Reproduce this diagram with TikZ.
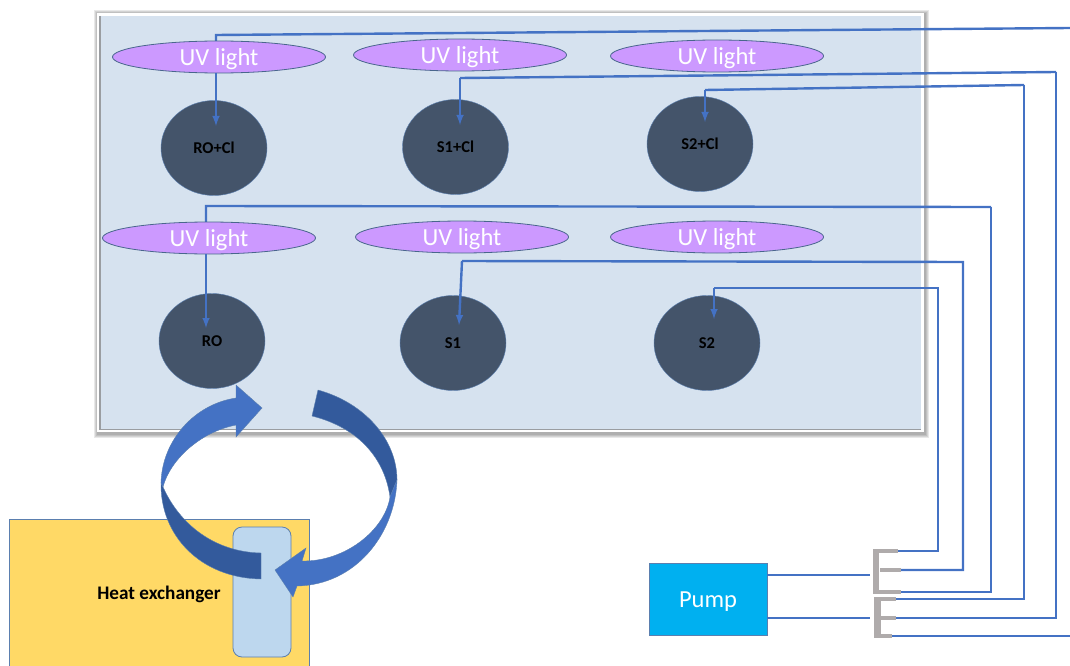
\documentclass[tikz,border=0pt]{standalone}
\usepackage{fontspec}
\setmainfont{Carlito}
\usetikzlibrary{shapes.geometric}
\usetikzlibrary{%
  calc,%
  arrows%
}
\definecolor{panelblue}{HTML}{D6E2EF}
\definecolor{tankdark}{HTML}{44546A}
\definecolor{lampviolet}{HTML}{CC99FF}
\definecolor{pipeblue}{HTML}{4472C4}
\definecolor{darkturn}{HTML}{335A9C}
\definecolor{edgeblue}{HTML}{5B7FAF}
\definecolor{heatyellow}{HTML}{FFD966}
\definecolor{coilblue}{HTML}{BDD7EE}
\definecolor{pumpblue}{HTML}{00B0F0}
\definecolor{splitgray}{HTML}{AFABAB}
\tikzset{
  lamp/.style={ellipse,draw=edgeblue!80!black,line width=0.8pt,fill=lampviolet,text=white,inner sep=0pt,
    minimum width=213pt,minimum height=32pt,text height=17pt,text depth=0pt,
    font=\fontsize{24.5}{24.5}\selectfont},
  tank/.style={ellipse,draw=edgeblue,fill=tankdark,text=black,inner sep=0pt,
    minimum width=106pt,minimum height=95pt,font=\bfseries\fontsize{16.5}{16.5}\selectfont},
  pipe/.style={draw=pipeblue,line width=2.4pt},
  splitter/.style={draw=splitgray,line width=4pt},
  splitback/.style={draw=splitgray,line width=6.5pt},
  turn/.style={draw=edgeblue,line width=0.4pt},
  glow/.style={black,opacity=0.09}
}
\begin{document}
\begin{tikzpicture}[x=1pt,y=-1pt]
\useasboundingbox (0,0) rectangle (1070,666);

% chamber
\fill[glow] (94,10) rectangle (929,438);
\fill[glow] (95,11) rectangle (928,437);
\fill[glow] (96,12) rectangle (927,436);
\fill[glow] (97,13) rectangle (926,435);
\node (chamber) [rectangle,draw=white,line width=3pt,fill=panelblue,inner sep=0pt,
  minimum width=824pt,minimum height=416pt] at (510.5,222.5) {};
\draw[gray!70!panelblue,line width=1.2pt] (100,16) -- (100,429.5) -- (921,429.5);

% heat exchanger
\node (exchanger) [rectangle,draw=edgeblue,line width=0.8pt,fill=heatyellow,inner sep=0pt,
  minimum width=300pt,minimum height=150pt] at (159,594) {};
\node (heatlabel) [font=\bfseries\fontsize{19.2}{19.2}\selectfont] at (159,594) {Heat exchanger};
\node (coil) [rectangle,rounded corners=9pt,draw=edgeblue,line width=0.8pt,fill=coilblue,inner sep=0pt,
  minimum width=58pt,minimum height=130pt] at (262,592) {};

% free ends of the pipes
\coordinate (inrocl) at (216,126);
\coordinate (ins1cl) at (460,125);
\coordinate (ins2cl) at (705,122);
\coordinate (inro) at (206,328);
\coordinate (ins1) at (459,325);
\coordinate (ins2) at (714,319);
\coordinate (edgetop) at (1070,28);
\coordinate (edgebottom) at (1070,636);
\coordinate (bendrocl) at (216,35);
\coordinate (bends1cl) at (460,78);
\coordinate (bends2cl) at (705,90);
\coordinate (bendro) at (206,206);
\coordinate (bends1) at (462,261);
\coordinate (bends2) at (714,288);

% pipes go behind the lamps
\draw[pipe] (edgetop) -- (bendrocl) -- (216,60);
\draw[pipe] (1056,72) -- (bends1cl);
\draw[pipe] (1024,85) -- (bends2cl);
\draw[pipe] (991,207) -- (bendro) -- (206,230);

% lamps
\node (lamprocl) [lamp] at (219,57) {UV light};
\node (lamps1cl) [lamp] at (460,55) {UV light};
\node (lamps2cl) [lamp] at (717,56) {UV light};
\node (lampro) [lamp] at (209,238) {UV light};
\node (lamps1) [lamp] at (462,237) {UV light};
\node (lamps2) [lamp] at (717,237) {UV light};

% tanks
\node (tankrocl) [tank] at (214,148) {RO+Cl};
\node (tanks1cl) [tank] at (455.5,147) {S1+Cl};
\node (tanks2cl) [tank] at (700,144) {S2+Cl};
\node (tankro) [tank] at (212,341) {RO};
\node (tanks1) [tank] at (453,343) {S1};
\node (tanks2) [tank] at (707,343) {S2};

% arrow tips inside the tanks
\draw[pipe,-latex] (216,73) -- (inrocl);
\draw[pipe,-latex] (bends1cl) -- (ins1cl);
\draw[pipe,-latex] (bends2cl) -- (ins2cl);
\draw[pipe,-latex] (206,254) -- (inro);
\draw[pipe,-latex] (bends1) -- (ins1);
\draw[pipe,-latex] (bends2) -- (ins2);

% pump and splitters
\node (pump) [rectangle,draw=edgeblue,line width=0.8pt,fill=pumpblue,text=white,inner sep=0pt,
  minimum width=118pt,minimum height=72pt,text height=16pt,text depth=0pt,
  font=\fontsize{24.5}{24.5}\selectfont] at (708,599) {Pump};
\coordinate (pumpa) at (767,575);
\coordinate (pumpb) at (767,618);
\coordinate (splita) at (870,575);
\coordinate (splitb) at (870,618);
\coordinate (taba) at (898,551);
\coordinate (tabb) at (901,570);
\coordinate (tabc) at (901,592);
\coordinate (tabd) at (896,599);
\coordinate (tabe) at (896,618);
\coordinate (tabf) at (892,636);
\draw[pipe] (pumpa) -- (splita);
\draw[pipe] (pumpb) -- (splitb);
\draw[splitter] (taba) -- (874,551);
\draw[splitter] (tabb) -- (880,570);
\draw[splitter] (tabc) -- (874,592);
\draw[splitback] (876,549) -- (876,594);
\draw[splitter] (tabd) -- (875,599);
\draw[splitter] (tabe) -- (880,618);
\draw[splitter] (tabf) -- (875,636);
\draw[splitback] (877.5,597) -- (877.5,638);

\draw[pipe] (taba) -- (938,551) -- (938,288) -- (bends2);
\draw[pipe] (tabb) -- (963,570) -- (963,262) -- (bends1);
\draw[pipe] (tabc) -- (991,592) -- (991,207);
\draw[pipe] (tabd) -- (1024,599) -- (1024,85);
\draw[pipe] (tabe) -- (1056,618) -- (1056,72);
\draw[pipe] (tabf) -- (edgebottom);

% circulation
\path[turn,fill=darkturn] (161,483) .. controls (160,535) and (200,578) .. (261,579) -- (261,553)
  .. controls (215,552) and (180,525) .. (163,487) -- cycle;
\path[turn,fill=pipeblue] (161,483) .. controls (162,440) and (195,404) .. (236,398) -- (236,385) -- (262,408)
  -- (236,437) -- (236,425) .. controls (200,432) and (170,460) .. (163,487) -- cycle;
\path[turn,fill=darkturn] (318,390) .. controls (365,403) and (397,440) .. (397,480) -- (390,497)
  .. controls (385,460) and (360,428) .. (312,416) -- cycle;
\path[turn,fill=pipeblue] (397,480) .. controls (395,535) and (355,585) .. (297,586) -- (293,597) -- (275,570)
  -- (306,548) -- (302,561) .. controls (345,562) and (385,530) .. (390,497) -- cycle;
\end{tikzpicture}
\end{document}
